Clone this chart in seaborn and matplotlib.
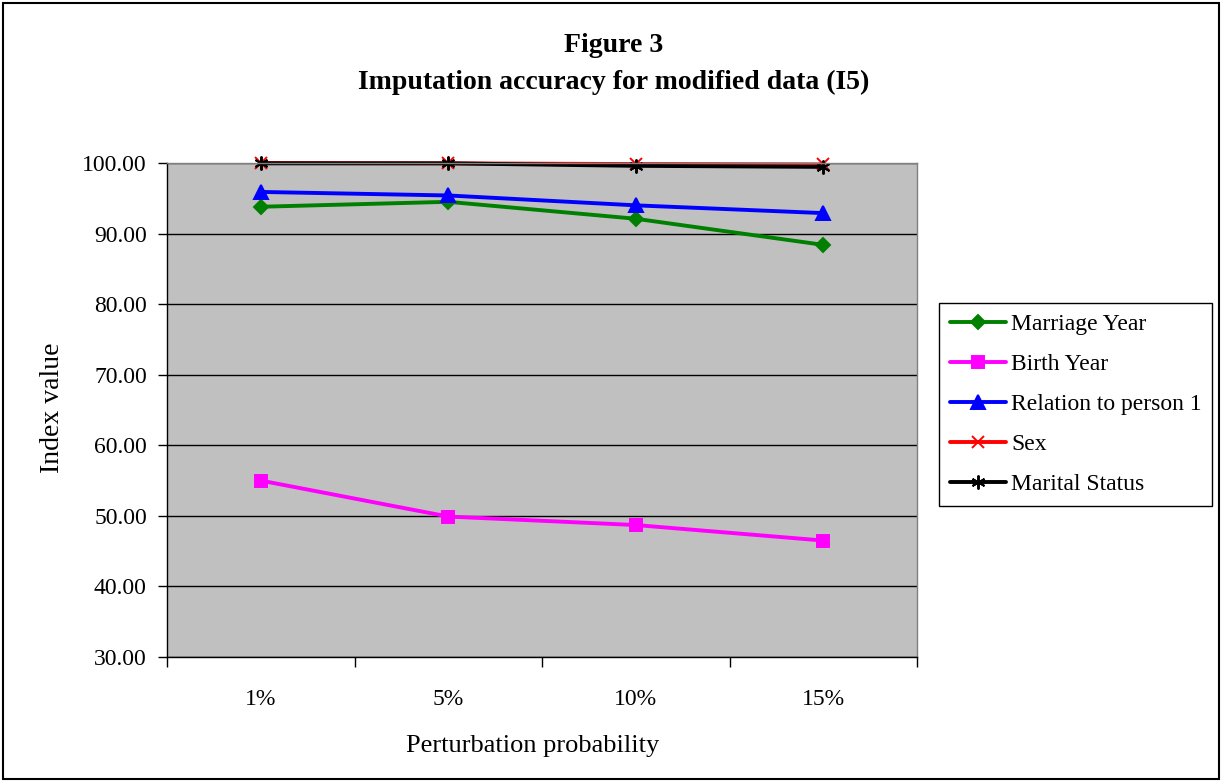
import matplotlib
matplotlib.use("Agg")
import matplotlib.pyplot as plt
import seaborn as sns
import pandas as pd
from matplotlib.patches import Rectangle
from matplotlib.ticker import FixedLocator, FormatStrFormatter

# Data
categories = ["1%", "5%", "10%", "15%"]
marriage_year = [93.8, 94.5, 92.1, 88.4]
birth_year = [55.0, 49.9, 48.7, 46.5]
relation_to_person1 = [95.9, 95.4, 94.0, 92.9]
sex = [100.0, 99.95, 99.85, 99.8]
marital_status = [99.95, 99.95, 99.6, 99.45]

series_names = ["Marriage Year", "Birth Year", "Relation to person 1", "Sex", "Marital Status"]
series_values = [marriage_year, birth_year, relation_to_person1, sex, marital_status]

colors = ["#008000", "#FF00FF", "#0000FF", "#FF0000", "#000000"]
markers = ["D", "s", "^", "x", (6, 2, 0)]
msizes = [7, 9, 10, 9, 10]

sns.set_theme(style="white")
plt.rcParams["font.family"] = ["Liberation Serif", "DejaVu Serif"]
plt.rcParams["text.color"] = "black"
plt.rcParams["axes.labelcolor"] = "black"
plt.rcParams["xtick.color"] = "black"
plt.rcParams["ytick.color"] = "black"

W, H = 1222, 782
fig = plt.figure(figsize=(W / 100, H / 100), dpi=100)
ax = fig.add_axes([167 / W, 1 - 657 / H, 750 / W, 494 / H])
ax.set_facecolor("#C0C0C0")

for name, vals, col, mk, ms in zip(series_names, series_values, colors, markers, msizes):
    df = pd.DataFrame({"Perturbation probability": categories, "Index value": vals})
    sns.lineplot(
        data=df, x="Perturbation probability", y="Index value", color=col,
        marker=mk, markersize=ms, markeredgecolor=col, markerfacecolor=col,
        markeredgewidth=1.4, linewidth=2.8, sort=False, label=name, ax=ax,
    )
for line in ax.lines:
    line.set_clip_on(False)

ax.set_ylim(30, 100)
ax.set_xlim(-0.5, 3.5)
ax.yaxis.set_major_locator(FixedLocator([30, 40, 50, 60, 70, 80, 90, 100]))
ax.yaxis.set_major_formatter(FormatStrFormatter("%.2f"))
ax.grid(axis="y", color="black", linewidth=1)
ax.set_axisbelow(True)

ax.set_xticks(range(len(categories)))
ax.set_xticklabels(categories)
ax.set_xticks([-0.5, 0.5, 1.5, 2.5, 3.5], minor=True)
ax.tick_params(axis="x", which="major", length=0, pad=23, labelsize=17)
ax.tick_params(axis="x", which="minor", length=7, width=1, color="black", direction="out",
               bottom=True)
ax.tick_params(axis="y", which="major", length=6.5, width=1, color="black", direction="out",
               left=True, labelsize=17, pad=8)

for side in ["left", "bottom"]:
    ax.spines[side].set_color("black")
    ax.spines[side].set_linewidth(1)
for side in ["top", "right"]:
    ax.spines[side].set_color("#808080")
    ax.spines[side].set_linewidth(1)

ax.set_xlabel("Perturbation probability", fontsize=19)
ax.set_ylabel("Index value", fontsize=20)
ax.xaxis.set_label_coords((533 - 167) / 750, -(746 - 657) / 494)
ax.yaxis.set_label_coords(-(167 - 52) / 750, (657 - 408) / 494)
ax.xaxis.label.set_va("center")
ax.yaxis.label.set_va("center")

fig.text(614 / W, 1 - 45 / H, "Figure 3", ha="center", va="center",
         fontsize=20, fontweight="bold")
fig.text(614 / W, 1 - 82 / H, "Imputation accuracy for modified data (I5)",
         ha="center", va="center", fontsize=20, fontweight="bold")

handles, labels = ax.get_legend_handles_labels()
leg = ax.legend(handles, labels, loc="upper left", bbox_to_anchor=(939 / W, 1 - 303 / H),
                bbox_transform=fig.transFigure, frameon=True, fancybox=False,
                fontsize=17, handlelength=2.4, labelspacing=0.78, borderpad=0.45,
                handletextpad=0.2, borderaxespad=0)
leg.get_frame().set_edgecolor("black")
leg.get_frame().set_linewidth(1)
leg.get_frame().set_facecolor("white")
leg.get_frame().set_alpha(1)

fig.patches.append(Rectangle((3 / W, 3 / H), 1 - 6 / W, 1 - 6 / H, transform=fig.transFigure,
                             fill=False, edgecolor="black", linewidth=1.5))

fig.savefig("out.png", dpi=100)
